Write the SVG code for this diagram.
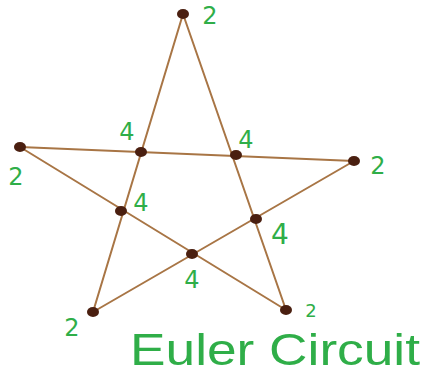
<svg xmlns="http://www.w3.org/2000/svg" width="426" height="375" viewBox="0 0 426 375">
<style>
.edge{stroke:#a87545;stroke-width:2;fill:none;stroke-linecap:round}
.node{fill:#4a1f10}
.lbl{fill:#2fae48;font-family:"DejaVu Sans",sans-serif;font-size:24px;text-anchor:middle;dominant-baseline:central}
.title{fill:#2fae48;font-family:"Liberation Sans",sans-serif;font-size:44px}
</style>
<rect width="426" height="375" fill="#ffffff"/>
<g id="connectors">
<line class="edge" x1="183" y1="14" x2="93" y2="312"/>
<line class="edge" x1="183" y1="14" x2="286" y2="310"/>
<line class="edge" x1="20" y1="147" x2="354" y2="161"/>
<line class="edge" x1="20" y1="147" x2="286" y2="310"/>
<line class="edge" x1="354" y1="161" x2="93" y2="312"/>
</g>
<g id="n-top"><ellipse class="node" cx="183" cy="14" rx="6" ry="5"/><text class="lbl" x="210" y="16">2</text></g>
<g id="n-left"><ellipse class="node" cx="20" cy="147" rx="6" ry="5"/><text class="lbl" x="16" y="177">2</text></g>
<g id="n-right"><ellipse class="node" cx="354" cy="161" rx="6" ry="5"/><text class="lbl" x="378" y="166">2</text></g>
<g id="n-bl"><ellipse class="node" cx="93" cy="312" rx="6" ry="5"/><text class="lbl" x="72" y="328">2</text></g>
<g id="n-br"><ellipse class="node" cx="286" cy="310" rx="6" ry="5"/><text class="lbl" x="311" y="310" style="font-size:18px">2</text></g>
<g id="n-a"><ellipse class="node" cx="141" cy="152" rx="6" ry="5"/><text class="lbl" x="127" y="132">4</text></g>
<g id="n-b"><ellipse class="node" cx="236" cy="155" rx="6" ry="5"/><text class="lbl" x="246" y="140">4</text></g>
<g id="n-c"><ellipse class="node" cx="121" cy="211" rx="6" ry="5"/><text class="lbl" x="141" y="203">4</text></g>
<g id="n-d"><ellipse class="node" cx="256" cy="219" rx="6" ry="5"/><text class="lbl" x="280" y="234" style="font-size:28px">4</text></g>
<g id="n-e"><ellipse class="node" cx="192" cy="254" rx="6" ry="5"/><text class="lbl" x="192" y="280">4</text></g>
<text class="title" x="130" y="365" textLength="290" lengthAdjust="spacingAndGlyphs">Euler Circuit</text>
</svg>
